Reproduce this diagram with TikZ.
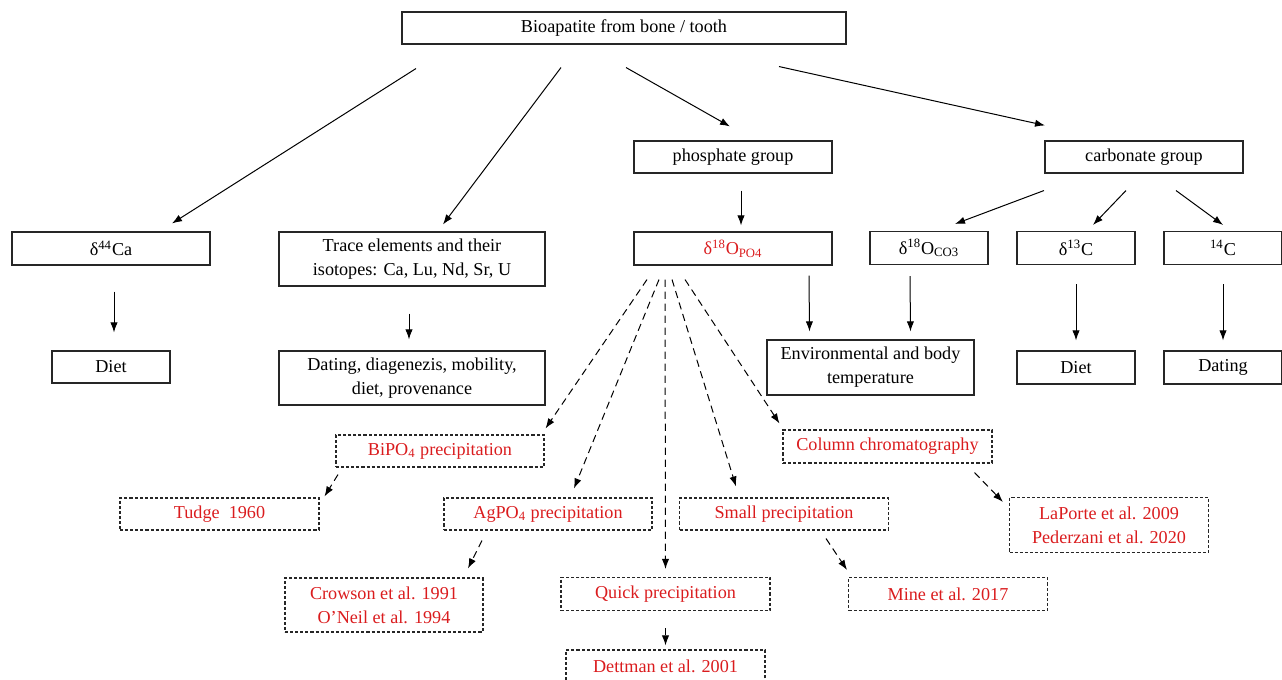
\documentclass[tikz,border=0pt]{standalone}
\usepackage{fontspec}
\setmainfont{Liberation Serif}
\usepackage{xcolor}
\usepackage{tikz}
\usetikzlibrary{calc,arrows.meta}
\definecolor{refred}{RGB}{218,28,30}
\def\px{0.55pt}

\begin{document}
\begin{tikzpicture}[x=\px,y=-\px,
    box/.style={draw=black!85,line width=0.6pt,inner sep=2pt,align=center,
        font={\fontsize{10}{13.2}\selectfont}},
    dbox/.style={box,text=refred,dash pattern=on 1.7pt off 1.1pt},
    arr/.style={-{Latex[length=5.5pt,width=4pt]},line width=0.55pt},
    darr/.style={arr,dash pattern=on 4pt off 2.6pt},
    ]
    \useasboundingbox (0,0) rectangle (1282,680);
    % top level
    \node[box,minimum width=444*\px,minimum height=32*\px] (bio) at (624,28) {Bioapatite from bone / tooth};
    \node[box,minimum width=198*\px,minimum height=32*\px] (phos) at (733,157) {phosphate group};
    \node[box,minimum width=198*\px,minimum height=32*\px] (carb) at (1144,157) {carbonate group};
    % isotopes
    \node[box,minimum width=198*\px,minimum height=33*\px] (ca) at (111,248.5) {δ\textsuperscript{44}Ca};
    \node[box,minimum width=266*\px,minimum height=54*\px] (trace) at (412,259) {Trace elements and their\\isotopes: Ca, Lu, Nd, Sr, U};
    \node[box,minimum width=198*\px,minimum height=33*\px,text=refred] (opo) at (733,248.5) {δ\textsuperscript{18}O\textsubscript{PO4}};
    \node[box,minimum width=118*\px,minimum height=33*\px] (oco) at (929,248) {δ\textsuperscript{18}O\textsubscript{CO3}};
    \node[box,minimum width=118*\px,minimum height=33*\px] (cc) at (1076,248) {δ\textsuperscript{13}C};
    \node[box,minimum width=118*\px,minimum height=33*\px] (radc) at (1223,248) {\textsuperscript{14}C};
    % applications
    \node[box,minimum width=118*\px,minimum height=32*\px] (dietl) at (111,367) {Diet};
    \node[box,minimum width=266*\px,minimum height=54*\px] (datl) at (412,378) {Dating, diagenezis, mobility,\\diet, provenance};
    \node[box,minimum width=207*\px,minimum height=55*\px] (env) at (870.5,367.5) {Environmental and body\\temperature};
    \node[box,minimum width=118*\px,minimum height=33*\px] (dietr) at (1076,367.5) {Diet};
    \node[box,minimum width=118*\px,minimum height=33*\px] (dat) at (1223,367.5) {Dating};
    % methods
    \node[dbox,minimum width=208*\px,minimum height=32*\px] (bi) at (440,451) {BiPO\textsubscript{4} precipitation};
    \node[dbox,minimum width=209*\px,minimum height=33*\px] (col) at (887.5,446.5) {Column chromatography};
    \node[dbox,minimum width=199*\px,minimum height=32*\px] (tud) at (219.5,514) {Tudge\ \ 1960};
    \node[dbox,minimum width=208*\px,minimum height=32*\px] (ag) at (548,514) {AgPO\textsubscript{4} precipitation};
    \node[dbox,minimum width=209*\px,minimum height=32*\px] (small) at (784,514) {Small precipitation};
    \node[dbox,minimum width=199*\px,minimum height=55*\px] (lap) at (1109,525) {LaPorte et al. 2009\\Pederzani et al. 2020};
    \node[dbox,minimum width=198*\px,minimum height=54*\px] (crow) at (384,605) {Crowson et al. 1991\\O’Neil et al. 1994};
    \node[dbox,minimum width=209*\px,minimum height=33*\px] (quick) at (665.5,594) {Quick precipitation};
    \node[dbox,minimum width=199*\px,minimum height=33*\px] (mine) at (948,594) {Mine et al. 2017};
    \node[dbox,minimum width=199*\px,minimum height=33*\px] (dett) at (665.5,666.5) {Dettman et al. 2001};
    % solid arrows
    \draw[arr] ($(bio.south)+(-208,24)$) -- ($(ca.north)+(61,-8)$);
    \draw[arr] ($(bio.south)+(-63,23)$) -- ($(trace.north)+(31,-7)$);
    \draw[arr] ($(bio.south)+(2,23)$) -- ($(phos.north)+(-3,-14)$);
    \draw[arr] ($(bio.south)+(155,22)$) -- ($(carb.north)+(-99,-15)$);
    \draw[arr] ($(phos.south)+(8,17)$) -- ($(opo.north)+(8,-6)$);
    \draw[arr] ($(carb.south)+(-100,17)$) -- ($(oco.north)+(26,-7)$);
    \draw[arr] ($(carb.south)+(-18,17)$) -- ($(cc.north)+(17,-6)$);
    \draw[arr] ($(carb.south)+(32,17)$) -- ($(radc.north)+(0,-6)$);
    \draw[arr] ($(ca.south)+(3,26)$) -- ($(dietl.north)+(3,-18)$);
    \draw[arr] ($(trace.south)+(-3,27)$) -- ($(datl.north)+(-3,-11)$);
    \draw[arr] ($(opo.south)+(76,10)$) -- ($(env.north)+(-61,-8)$);
    \draw[arr] ($(oco.south)+(-19,11)$) -- ($(env.north)+(40,-8)$);
    \draw[arr] ($(cc.south)+(0,19)$) -- ($(dietr.north)+(0,-10)$);
    \draw[arr] ($(radc.south)+(0,19)$) -- ($(dat.north)+(0,-10)$);
    % dashed arrows
    \draw[darr] ($(opo.south)+(-86,14)$) -- ($(bi.north east)+(1,-6)$);
    \draw[darr] ($(opo.south)+(-74,14)$) -- ($(ag.north)+(26,-9)$);
    \draw[darr] ($(opo.south)+(-68,14)$) -- ($(quick.north)+(0,-8)$);
    \draw[darr] ($(opo.south)+(-61,14)$) -- ($(small.north)+(-48,-11)$);
    \draw[darr] ($(opo.south)+(-48,14)$) -- ($(col.north west)+(-3,-6)$);
    \draw[darr] ($(bi.south)+(-102,7)$) -- ($(tud.north)+(105,-1)$);
    \draw[darr] ($(ag.south)+(-66,10)$) -- ($(crow.north)+(84,-9)$);
    \draw[darr] ($(quick.south)+(0,17)$) -- ($(dett.north)+(0,-4)$);
    \draw[darr] ($(small.south)+(42,8)$) -- ($(mine.north)+(-101,-7)$);
    \draw[darr] ($(col.south)+(87,9)$) -- ($(lap.north west)+(-6,5)$);
\end{tikzpicture}
\end{document}
